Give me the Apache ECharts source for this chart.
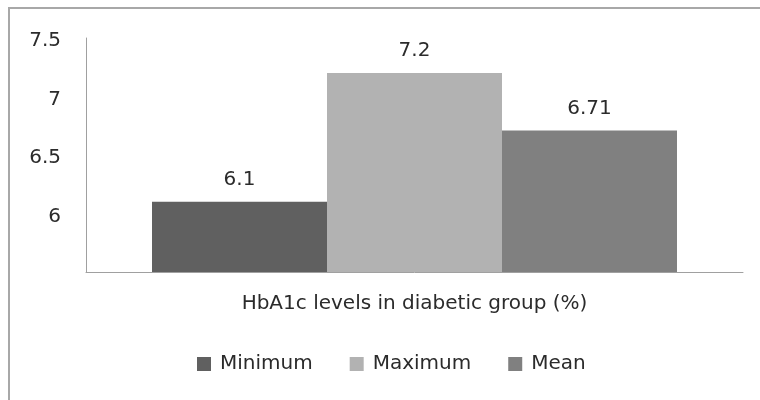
<!DOCTYPE html>
<html>
<head>
<meta charset="utf-8">
<script src="https://cdn.jsdelivr.net/npm/echarts@6/dist/echarts.min.js"></script>
<style>
  html, body { margin: 0; padding: 0; background: #fff; }
  #chart { width: 760px; height: 400px; }
</style>
</head>
<body>
<div id="chart"></div>
<script>
// HbA1c summary values for the diabetic group
const categories = ['HbA1c levels in diabetic group (%)'];
const seriesNames = ['Minimum', 'Maximum', 'Mean'];
const minimumValues = [6.1];
const maximumValues = [7.2];
const meanValues = [6.71];
const seriesColors = ['#606060', '#b2b2b2', '#808080'];
const yTicks = { min: 5.5, max: 7.5, interval: 0.5 };

const FONT = 'DejaVu Sans';
const TEXT_COLOR = '#2b2b2b';
const valueSets = [minimumValues, maximumValues, meanValues];

const chart = echarts.init(document.getElementById('chart'), null, { renderer: 'canvas' });

chart.setOption({
  backgroundColor: '#ffffff',
  animation: false,
  graphic: [{
    type: 'rect',
    shape: { x: 9, y: 8, width: 800, height: 500 },
    style: { fill: 'none', stroke: '#a8a8a8', lineWidth: 2 },
    silent: true
  }],
  grid: { left: 86, right: 17, top: 38, bottom: 128, containLabel: false },
  legend: {
    data: seriesNames,
    top: 354,
    left: 197,
    itemWidth: 14,
    itemHeight: 14,
    itemGap: 37,
    icon: 'rect',
    padding: 0,
    textStyle: { fontFamily: FONT, fontSize: 20, color: TEXT_COLOR, padding: [0, 0, 0, 4] }
  },
  xAxis: {
    type: 'category',
    data: categories,
    axisLine: { show: true, lineStyle: { color: '#a0a0a0', width: 1 } },
    axisTick: { show: false },
    axisLabel: { fontFamily: FONT, fontSize: 20, color: TEXT_COLOR, margin: 22 }
  },
  yAxis: {
    type: 'value',
    min: yTicks.min,
    max: yTicks.max,
    interval: yTicks.interval,
    axisLine: { show: true, lineStyle: { color: '#a0a0a0', width: 1 } },
    axisTick: { show: false },
    splitLine: { show: false },
    axisLabel: {
      showMinLabel: false,
      fontFamily: FONT, fontSize: 20, color: TEXT_COLOR, margin: 25,
      verticalAlign: 'top',
      lineHeight: 6,
      formatter: v => String(v)
    }
  },
  series: seriesNames.map((name, i) => ({
    name: name,
    type: 'bar',
    data: valueSets[i],
    barWidth: 175,
    barGap: '0%',
    itemStyle: { color: seriesColors[i] },
    label: {
      show: true,
      position: 'top',
      distance: 12,
      fontFamily: FONT,
      fontSize: 20,
      color: TEXT_COLOR,
      formatter: p => String(p.value)
    }
  }))
});
</script>
</body>
</html>
